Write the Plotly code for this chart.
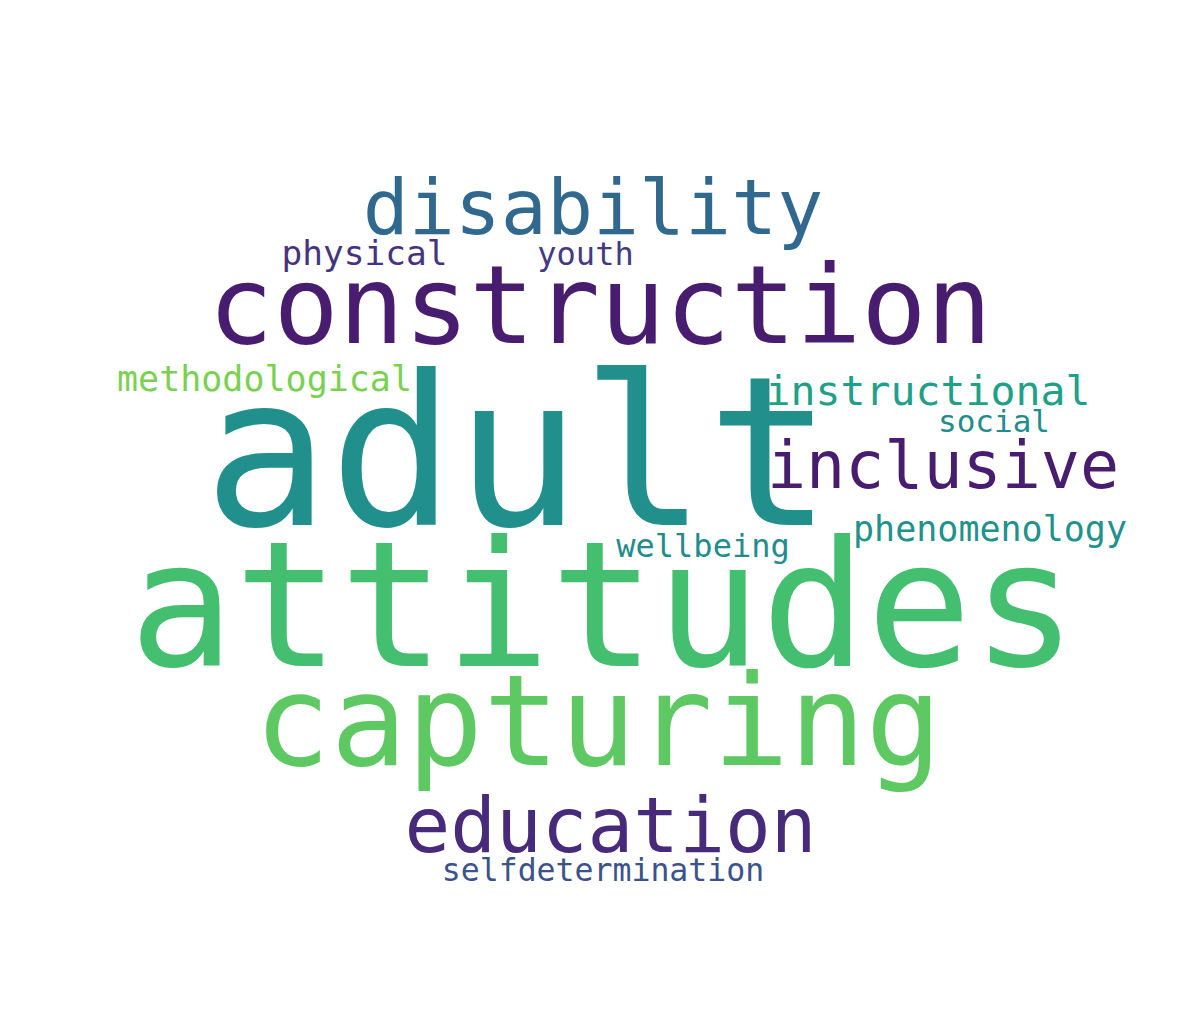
import plotly.graph_objects as go

# Word cloud data
words = ["adult", "attitudes", "construction", "capturing", "disability", "education",
         "inclusive", "instructional", "phenomenology", "methodological", "physical",
         "youth", "wellbeing", "social", "selfdetermination"]
weights = [209, 175, 108.5, 127, 76.5, 76, 65, 41.5, 35, 35, 34.5, 32, 32, 31, 31.5]
colors = ["#21908d", "#44bf70", "#481c6e", "#5ec962", "#31688e", "#472a7a",
          "#481d6f", "#1fa088", "#21918c", "#7ad151", "#46337e", "#443983",
          "#228c8d", "#228c8d", "#3b528b"]

# Layout positions of each word (pixel grid of the canvas)
pos_x = [510, 595, 592, 590, 585, 602.5, 935, 920, 982, 256.5, 356.5, 577.5, 695, 986, 595]
pos_y = [465, 614, 308, 725, 207, 825, 464, 387, 524, 374, 248, 249, 541, 416, 865]

fig = go.Figure()
for w, s, c, x, y in zip(words, weights, colors, pos_x, pos_y):
    fig.add_trace(go.Scatter(
        x=[x], y=[y], mode="text", text=[w],
        textposition="middle center",
        textfont=dict(family="DejaVu Sans Mono", size=s, color=c),
        hoverinfo="text", showlegend=False,
    ))

fig.update_layout(
    width=1190, height=1028,
    margin=dict(l=0, r=0, t=0, b=0),
    paper_bgcolor="white", plot_bgcolor="white",
    xaxis=dict(range=[0, 1190], visible=False, fixedrange=True),
    yaxis=dict(range=[1028, 0], visible=False, fixedrange=True),
)
fig.write_html("out.html")
